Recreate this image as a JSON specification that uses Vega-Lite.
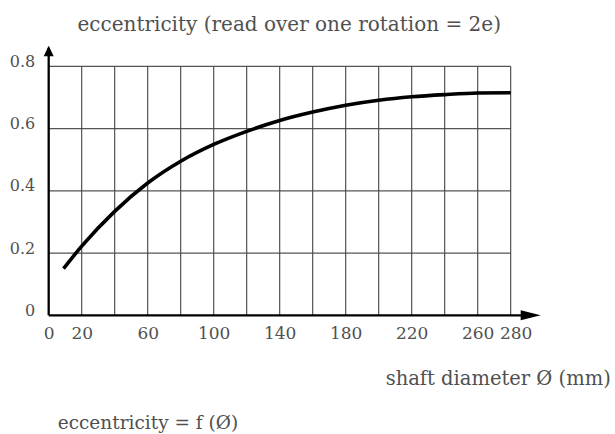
{
  "$schema": "https://vega.github.io/schema/vega-lite/v6.json",
  "width": 462,
  "height": 249,
  "autosize": {"type": "none"},
  "padding": {"left": 48.7, "top": 66.3, "right": 104.3, "bottom": 118.7},
  "background": "white",
  "config": {"view": {"stroke": null}, "font": "DejaVu Serif"},
  "title": {
    "text": "eccentricity = f (Ø)",
    "orient": "bottom",
    "anchor": "start",
    "frame": "group",
    "offset": 26,
    "dx": 9,
    "fontSize": 18.5,
    "font": "DejaVu Serif",
    "fontWeight": "normal",
    "color": "#505050"
  },
  "datasets": {
    "curve": [
      {"d": 9, "e": 0.150},
      {"d": 20, "e": 0.222},
      {"d": 40, "e": 0.334},
      {"d": 60, "e": 0.425},
      {"d": 80, "e": 0.495},
      {"d": 100, "e": 0.549},
      {"d": 120, "e": 0.591},
      {"d": 140, "e": 0.626},
      {"d": 160, "e": 0.653},
      {"d": 180, "e": 0.675},
      {"d": 200, "e": 0.691},
      {"d": 220, "e": 0.702},
      {"d": 240, "e": 0.709},
      {"d": 260, "e": 0.714},
      {"d": 280, "e": 0.715}
    ],
    "vgrid": [
      {"x": 20}, {"x": 40}, {"x": 60}, {"x": 80}, {"x": 100}, {"x": 120}, {"x": 140},
      {"x": 160}, {"x": 180}, {"x": 200}, {"x": 220}, {"x": 240}, {"x": 260}, {"x": 280}
    ],
    "hgrid": [
      {"y": 0.2}, {"y": 0.4}, {"y": 0.6}, {"y": 0.8}
    ]
  },
  "layer": [
    {
      "data": {"name": "hgrid"},
      "mark": {"type": "rule", "color": "#555555", "strokeWidth": 1.2},
      "encoding": {
        "y": {"field": "y", "type": "quantitative"},
        "x": {"datum": 0},
        "x2": {"datum": 280}
      }
    },
    {
      "data": {"name": "vgrid"},
      "mark": {"type": "rule", "color": "#444444", "strokeWidth": 1.1},
      "encoding": {
        "x": {"field": "x", "type": "quantitative"},
        "y": {"datum": 0},
        "y2": {"datum": 0.8}
      }
    },
    {
      "data": {"values": [{}]},
      "mark": {"type": "rule", "color": "black", "strokeWidth": 2.3},
      "encoding": {
        "x": {"datum": 0},
        "y": {"datum": 0},
        "y2": {"datum": 0.86}
      }
    },
    {
      "data": {"values": [{}]},
      "mark": {"type": "rule", "color": "black", "strokeWidth": 2.3},
      "encoding": {
        "x": {"datum": 0},
        "x2": {"datum": 292},
        "y": {"datum": 0}
      }
    },
    {
      "data": {"values": [{}]},
      "mark": {"type": "point", "shape": "M-1,1L0,-1.1L1,1Z", "size": 100, "filled": true, "color": "black", "opacity": 1, "strokeWidth": 0},
      "encoding": {
        "x": {"datum": 0},
        "y": {"datum": 0.848}
      }
    },
    {
      "data": {"values": [{}]},
      "mark": {"type": "point", "shape": "M-1,-0.5L1,0L-1,0.5Z", "size": 400, "filled": true, "color": "black", "opacity": 1, "strokeWidth": 0},
      "encoding": {
        "x": {"datum": 292.1},
        "y": {"datum": 0}
      }
    },
    {
      "data": {"name": "curve"},
      "mark": {"type": "line", "color": "black", "strokeWidth": 3.6, "interpolate": "monotone", "strokeCap": "butt"},
      "encoding": {
        "x": {
          "field": "d",
          "type": "quantitative",
          "scale": {"domain": [0, 280], "nice": false, "zero": false},
          "axis": {
            "values": [0, 20, 60, 100, 140, 180, 220, 260, 280],
            "domain": false,
            "ticks": false,
            "grid": false,
            "labelFont": "DejaVu Serif",
            "labelFontSize": 17,
            "labelColor": "#505050",
            "labelPadding": 10,
            "labelFlush": false,
            "labelOverlap": false,
            "labelOffset": {"expr": "datum.value == 280 ? 5 : 0"},
            "title": "shaft diameter Ø (mm)",
            "titleFont": "DejaVu Serif",
            "titleFontSize": 19.5,
            "titleFontWeight": "normal",
            "titleColor": "#505050",
            "titleAlign": "center",
            "titleBaseline": "alphabetic",
            "titleX": 449,
            "titleY": 69
          }
        },
        "y": {
          "field": "e",
          "type": "quantitative",
          "scale": {"domain": [0, 0.8], "nice": false, "zero": false},
          "axis": {
            "values": [0, 0.2, 0.4, 0.6, 0.8],
            "format": ".1~f",
            "domain": false,
            "ticks": false,
            "grid": false,
            "labelFont": "DejaVu Serif",
            "labelFontSize": 16,
            "labelColor": "#505050",
            "labelPadding": 14,
            "labelBaseline": "alphabetic",
            "labelFlush": false,
            "labelOverlap": false,
            "title": "eccentricity (read over one rotation = 2e)",
            "titleFont": "DejaVu Serif",
            "titleFontSize": 20,
            "titleFontWeight": "normal",
            "titleColor": "#505050",
            "titleAngle": 0,
            "titleAlign": "center",
            "titleBaseline": "alphabetic",
            "titleX": 240,
            "titleY": -36
          }
        }
      }
    }
  ]
}
